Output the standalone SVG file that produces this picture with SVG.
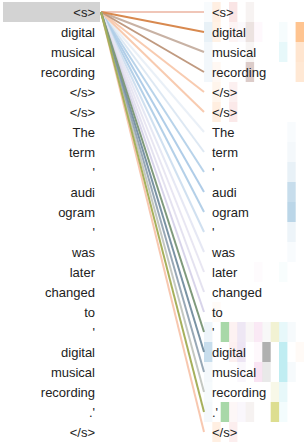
<svg xmlns="http://www.w3.org/2000/svg" width="308" height="447" viewBox="0 0 308 447">
<style>
text{font-family:"Liberation Sans",Arial,sans-serif;font-size:13px;fill:#222}
.l text{text-anchor:end}
.r text{text-anchor:start}
.conn line{stroke-width:2;fill:none}
.c0,.c10{fill:#1f77b4}.c1,.c11{fill:#ff7f0e}.c2{fill:#2ca02c}.c3{fill:#d62728}.c4{fill:#9467bd}.c5{fill:#8c564b}.c6{fill:#e377c2}.c7{fill:#7f7f7f}.c8{fill:#bcbd22}.c9{fill:#17becf}
</style>
<rect width="308" height="447" fill="#fff"/>
<g id="heatmap">
<rect class="c1" x="212.3" y="2" width="8.4" height="20" fill-opacity="0.12"/>
<rect class="c3" x="229" y="2" width="8.4" height="20" fill-opacity="0.12"/>
<rect class="c5" x="245.7" y="2" width="8.4" height="20" fill-opacity="0.07"/>
<rect class="c0" x="204" y="2" width="8.4" height="20" fill-opacity="0.03"/>
<rect class="c0" x="204" y="22" width="8.4" height="20" fill-opacity="0.1"/>
<rect class="c1" x="212.3" y="22" width="8.4" height="20" fill-opacity="0.1"/>
<rect class="c3" x="229" y="22" width="8.4" height="20" fill-opacity="0.05"/>
<rect class="c4" x="237.3" y="22" width="8.4" height="20" fill-opacity="0.04"/>
<rect class="c5" x="245.7" y="22" width="8.4" height="20" fill-opacity="0.17"/>
<rect class="c6" x="254" y="22" width="8.4" height="20" fill-opacity="0.05"/>
<rect class="c9" x="279" y="22" width="8.4" height="20" fill-opacity="0.04"/>
<rect class="c11" x="295.6" y="22" width="8.4" height="20" fill-opacity="0.46"/>
<rect class="c0" x="204" y="42" width="8.4" height="20" fill-opacity="0.06"/>
<rect class="c5" x="245.7" y="42" width="8.4" height="20" fill-opacity="0.06"/>
<rect class="c9" x="279" y="42" width="8.4" height="20" fill-opacity="0.1"/>
<rect class="c11" x="295.6" y="42" width="8.4" height="20" fill-opacity="0.2"/>
<rect class="c0" x="204" y="62" width="8.4" height="20" fill-opacity="0.06"/>
<rect class="c1" x="212.3" y="62" width="8.4" height="20" fill-opacity="0.05"/>
<rect class="c5" x="245.7" y="62" width="8.4" height="20" fill-opacity="0.3"/>
<rect class="c11" x="295.6" y="62" width="8.4" height="20" fill-opacity="0.18"/>
<rect class="c1" x="212.3" y="82" width="8.4" height="20" fill-opacity="0.08"/>
<rect class="c3" x="229" y="82" width="8.4" height="20" fill-opacity="0.07"/>
<rect class="c1" x="212.3" y="102" width="8.4" height="20" fill-opacity="0.13"/>
<rect class="c3" x="229" y="102" width="8.4" height="20" fill-opacity="0.1"/>
<rect class="c10" x="287.3" y="122" width="8.4" height="20" fill-opacity="0.03"/>
<rect class="c10" x="287.3" y="142" width="8.4" height="20" fill-opacity="0.05"/>
<rect class="c10" x="287.3" y="162" width="8.4" height="20" fill-opacity="0.1"/>
<rect class="c10" x="287.3" y="182" width="8.4" height="20" fill-opacity="0.25"/>
<rect class="c10" x="287.3" y="202" width="8.4" height="20" fill-opacity="0.3"/>
<rect class="c10" x="287.3" y="222" width="8.4" height="20" fill-opacity="0.08"/>
<rect class="c10" x="287.3" y="242" width="8.4" height="20" fill-opacity="0.03"/>
<rect class="c9" x="279" y="262" width="8.4" height="20" fill-opacity="0.03"/>
<rect class="c6" x="254" y="262" width="8.4" height="20" fill-opacity="0.03"/>
<rect class="c1" x="212.3" y="302" width="8.4" height="20" fill-opacity="0.03"/>
<rect class="c0" x="204" y="322" width="8.4" height="20" fill-opacity="0.08"/>
<rect class="c2" x="220.7" y="322" width="8.4" height="20" fill-opacity="0.41"/>
<rect class="c3" x="229" y="322" width="8.4" height="20" fill-opacity="0.06"/>
<rect class="c4" x="237.3" y="322" width="8.4" height="20" fill-opacity="0.16"/>
<rect class="c5" x="245.7" y="322" width="8.4" height="20" fill-opacity="0.05"/>
<rect class="c6" x="254" y="322" width="8.4" height="20" fill-opacity="0.16"/>
<rect class="c7" x="262.3" y="322" width="8.4" height="20" fill-opacity="0.05"/>
<rect class="c8" x="270.7" y="322" width="8.4" height="20" fill-opacity="0.2"/>
<rect class="c9" x="279" y="322" width="8.4" height="20" fill-opacity="0.1"/>
<rect class="c10" x="287.3" y="322" width="8.4" height="20" fill-opacity="0.04"/>
<rect class="c0" x="204" y="342" width="8.4" height="20" fill-opacity="0.25"/>
<rect class="c3" x="229" y="342" width="8.4" height="20" fill-opacity="0.07"/>
<rect class="c4" x="237.3" y="342" width="8.4" height="20" fill-opacity="0.17"/>
<rect class="c6" x="254" y="342" width="8.4" height="20" fill-opacity="0.05"/>
<rect class="c7" x="262.3" y="342" width="8.4" height="20" fill-opacity="0.62"/>
<rect class="c9" x="279" y="342" width="8.4" height="20" fill-opacity="0.27"/>
<rect class="c11" x="295.6" y="342" width="8.4" height="20" fill-opacity="0.04"/>
<rect class="c0" x="204" y="362" width="8.4" height="20" fill-opacity="0.05"/>
<rect class="c4" x="237.3" y="362" width="8.4" height="20" fill-opacity="0.05"/>
<rect class="c6" x="254" y="362" width="8.4" height="20" fill-opacity="0.2"/>
<rect class="c7" x="262.3" y="362" width="8.4" height="20" fill-opacity="0.17"/>
<rect class="c9" x="279" y="362" width="8.4" height="20" fill-opacity="0.27"/>
<rect class="c10" x="287.3" y="362" width="8.4" height="20" fill-opacity="0.04"/>
<rect class="c0" x="204" y="382" width="8.4" height="20" fill-opacity="0.04"/>
<rect class="c8" x="270.7" y="382" width="8.4" height="20" fill-opacity="0.1"/>
<rect class="c9" x="279" y="382" width="8.4" height="20" fill-opacity="0.1"/>
<rect class="c0" x="204" y="402" width="8.4" height="20" fill-opacity="0.05"/>
<rect class="c2" x="220.7" y="402" width="8.4" height="20" fill-opacity="0.41"/>
<rect class="c3" x="229" y="402" width="8.4" height="20" fill-opacity="0.04"/>
<rect class="c4" x="237.3" y="402" width="8.4" height="20" fill-opacity="0.05"/>
<rect class="c5" x="245.7" y="402" width="8.4" height="20" fill-opacity="0.08"/>
<rect class="c8" x="270.7" y="402" width="8.4" height="20" fill-opacity="0.5"/>
<rect class="c9" x="279" y="402" width="8.4" height="20" fill-opacity="0.05"/>
<rect class="c1" x="212.3" y="422" width="8.4" height="20" fill-opacity="0.12"/>
<rect class="c3" x="229" y="422" width="8.4" height="20" fill-opacity="0.08"/>
</g>
<g class="conn" id="connectors">
<line x1="101" y1="12" x2="204" y2="132" stroke="#eaf0f7"/>
<line x1="101" y1="12" x2="204" y2="152" stroke="#dde8f3"/>
<line x1="101" y1="12" x2="204" y2="172" stroke="#b8d3ea"/>
<line x1="101" y1="12" x2="204" y2="192" stroke="#b0cde8"/>
<line x1="101" y1="12" x2="204" y2="212" stroke="#b4d0e8"/>
<line x1="101" y1="12" x2="204" y2="232" stroke="#d0e0f0"/>
<line x1="101" y1="12" x2="204" y2="252" stroke="#e6e8f4"/>
<line x1="101" y1="12" x2="204" y2="272" stroke="#e8e6f2"/>
<line x1="101" y1="12" x2="204" y2="292" stroke="#e4e2f0"/>
<line x1="101" y1="12" x2="204" y2="312" stroke="#d8d4ea"/>
<line x1="101" y1="12" x2="204" y2="12" stroke="#f0c6b8"/>
<line x1="101" y1="12" x2="204" y2="92" stroke="#f8cbb0"/>
<line x1="101" y1="12" x2="204" y2="112" stroke="#f8cbb0"/>
<line x1="101" y1="12" x2="204" y2="52" stroke="#c8b2a4"/>
<line x1="101" y1="12" x2="204" y2="72" stroke="#c09a80"/>
<line x1="101" y1="12" x2="204" y2="32" stroke="#d8894f"/>
<line x1="101" y1="12" x2="204" y2="432" stroke="#f8c8b0"/>
<line x1="101" y1="12" x2="204" y2="392" stroke="#c4c8c2"/>
<line x1="101" y1="12" x2="204" y2="372" stroke="#98a8b6"/>
<line x1="101" y1="12" x2="204" y2="352" stroke="#7a93a4"/>
<line x1="101" y1="12" x2="204" y2="332" stroke="#7f9a7c"/>
<line x1="101" y1="12" x2="204" y2="412" stroke="#a6b05c"/>
</g>
<g class="l" id="left">
<rect id="left-highlight" x="3" y="2" width="97" height="20" fill="#d3d3d3"/>
<g id="l0"><text x="95" y="16.5">&lt;s&gt;</text></g>
<g id="l1"><text x="95" y="36.5">digital</text></g>
<g id="l2"><text x="95" y="56.5">musical</text></g>
<g id="l3"><text x="95" y="76.5">recording</text></g>
<g id="l4"><text x="95" y="96.5">&lt;/s&gt;</text></g>
<g id="l5"><text x="95" y="116.5">&lt;/s&gt;</text></g>
<g id="l6"><text x="95" y="136.5">The</text></g>
<g id="l7"><text x="95" y="156.5">term</text></g>
<g id="l8"><text x="95" y="176.5">'</text></g>
<g id="l9"><text x="95" y="196.5">audi</text></g>
<g id="l10"><text x="95" y="216.5">ogram</text></g>
<g id="l11"><text x="95" y="236.5">'</text></g>
<g id="l12"><text x="95" y="256.5">was</text></g>
<g id="l13"><text x="95" y="276.5">later</text></g>
<g id="l14"><text x="95" y="296.5">changed</text></g>
<g id="l15"><text x="95" y="316.5">to</text></g>
<g id="l16"><text x="95" y="336.5">'</text></g>
<g id="l17"><text x="95" y="356.5">digital</text></g>
<g id="l18"><text x="95" y="376.5">musical</text></g>
<g id="l19"><text x="95" y="396.5">recording</text></g>
<g id="l20"><text x="95" y="416.5">.'</text></g>
<g id="l21"><text x="95" y="436.5">&lt;/s&gt;</text></g>
</g>
<g class="r" id="right">
<g id="r0"><text x="212" y="16.5">&lt;s&gt;</text></g>
<g id="r1"><text x="212" y="36.5">digital</text></g>
<g id="r2"><text x="212" y="56.5">musical</text></g>
<g id="r3"><text x="212" y="76.5">recording</text></g>
<g id="r4"><text x="212" y="96.5">&lt;/s&gt;</text></g>
<g id="r5"><text x="212" y="116.5">&lt;/s&gt;</text></g>
<g id="r6"><text x="212" y="136.5">The</text></g>
<g id="r7"><text x="212" y="156.5">term</text></g>
<g id="r8"><text x="212" y="176.5">'</text></g>
<g id="r9"><text x="212" y="196.5">audi</text></g>
<g id="r10"><text x="212" y="216.5">ogram</text></g>
<g id="r11"><text x="212" y="236.5">'</text></g>
<g id="r12"><text x="212" y="256.5">was</text></g>
<g id="r13"><text x="212" y="276.5">later</text></g>
<g id="r14"><text x="212" y="296.5">changed</text></g>
<g id="r15"><text x="212" y="316.5">to</text></g>
<g id="r16"><text x="212" y="336.5">'</text></g>
<g id="r17"><text x="212" y="356.5">digital</text></g>
<g id="r18"><text x="212" y="376.5">musical</text></g>
<g id="r19"><text x="212" y="396.5">recording</text></g>
<g id="r20"><text x="212" y="416.5">.'</text></g>
<g id="r21"><text x="212" y="436.5">&lt;/s&gt;</text></g>
</g>
</svg>
